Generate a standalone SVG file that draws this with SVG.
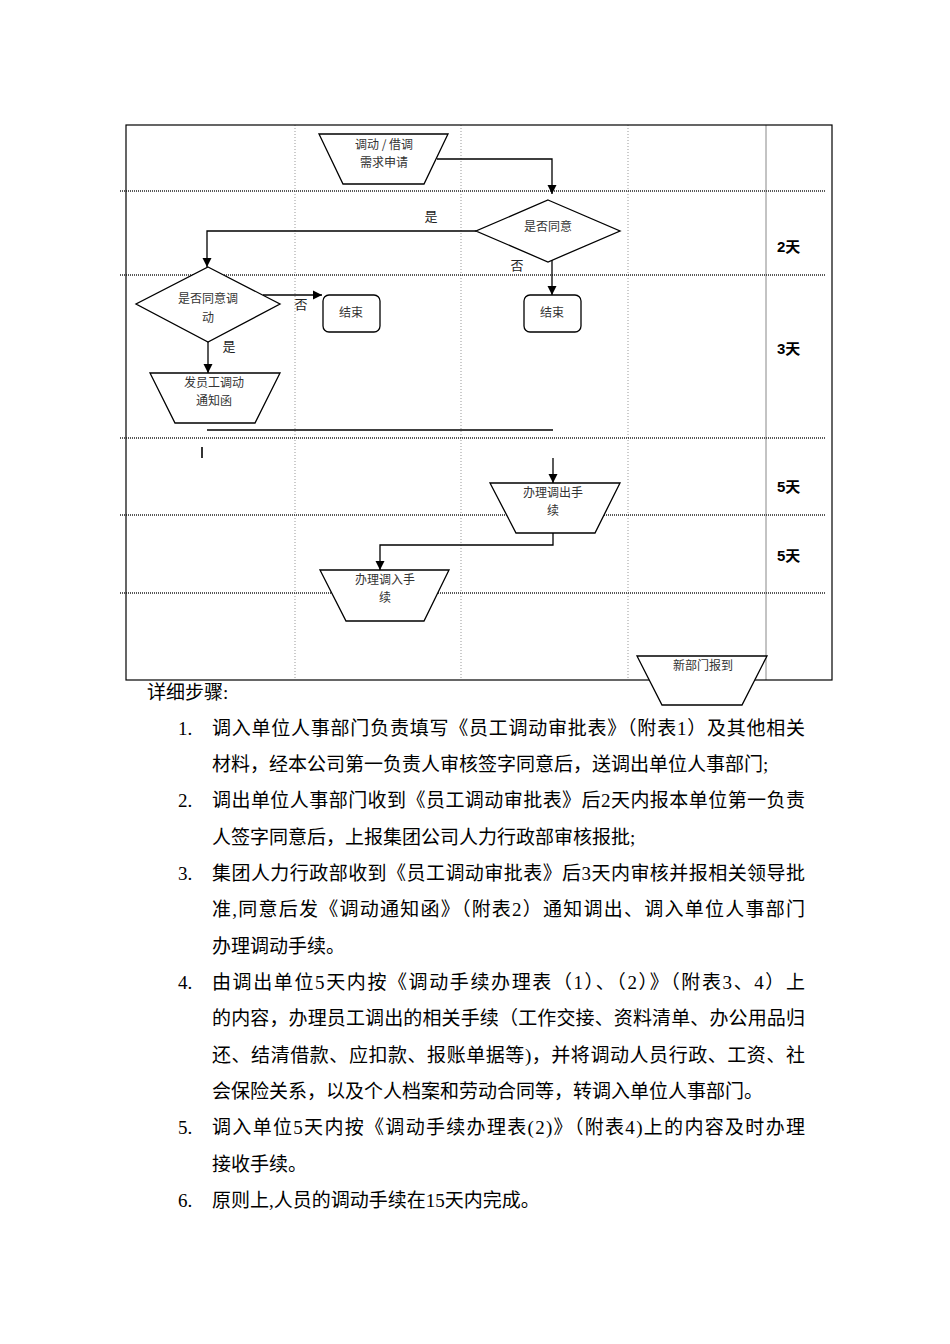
<svg xmlns="http://www.w3.org/2000/svg" width="950" height="1344" viewBox="0 0 950 1344">
<style>
.frame{stroke:#000;stroke-width:1.2;fill:none}
.vsolid{stroke:#888;stroke-width:1;fill:none}
.vdot{stroke:#999;stroke-width:1;stroke-dasharray:1,2;fill:none}
.hdot{stroke:#222;stroke-width:1.3;stroke-dasharray:1,1;fill:none}
.shape{stroke:#000;stroke-width:1.3;fill:#fff}
.conn{stroke:#000;stroke-width:1.3;fill:none}
.lbl{font-family:"Noto Sans CJK SC","Liberation Sans",sans-serif;font-size:12px;fill:#333;text-anchor:middle}
.yn{font-family:"Noto Sans CJK SC","Liberation Sans",sans-serif;font-size:13px;fill:#222;text-anchor:middle}
.day{font-family:"Liberation Sans","Noto Sans CJK SC",sans-serif;font-size:15px;font-weight:bold;fill:#000}
.body{font-family:"Liberation Serif","Noto Sans CJK SC",serif;font-size:19px;fill:#000}
</style>
<defs>
<marker id="arr" viewBox="0 0 10 10" refX="10" refY="5" markerWidth="9" markerHeight="10" markerUnits="userSpaceOnUse" orient="auto">
<path d="M0,0 L10,5 L0,10 z" fill="#000"/>
</marker>
</defs>
<rect width="950" height="1344" fill="#fff"/>

<g id="grid">
<line class="vdot" x1="295" y1="125" x2="295" y2="680"/>
<line class="vdot" x1="461" y1="125" x2="461" y2="680"/>
<line class="vdot" x1="628" y1="125" x2="628" y2="680"/>
<line class="vsolid" x1="766" y1="125" x2="766" y2="680"/>
<line class="hdot" x1="120" y1="191" x2="825" y2="191"/>
<line class="hdot" x1="120" y1="275" x2="825" y2="275"/>
<line class="hdot" x1="120" y1="438" x2="825" y2="438"/>
<line class="hdot" x1="120" y1="515" x2="825" y2="515"/>
<line class="hdot" x1="120" y1="593" x2="825" y2="593"/>
<rect class="frame" x="126" y="125" width="706" height="555"/>
</g>

<g id="days">
<text class="day" x="777" y="252">2天</text>
<text class="day" x="777" y="354">3天</text>
<text class="day" x="777" y="492">5天</text>
<text class="day" x="777" y="561">5天</text>
</g>

<g id="connectors">
<polyline class="conn" points="437,159 552,159 552,194" marker-end="url(#arr)"/>
<polyline class="conn" points="476,231 207,231 207,267" marker-end="url(#arr)"/>
<line class="conn" x1="552" y1="255" x2="552" y2="295" marker-end="url(#arr)"/>
<line class="conn" x1="263" y1="295" x2="322" y2="295" marker-end="url(#arr)"/>
<line class="conn" x1="208" y1="342" x2="208" y2="373" marker-end="url(#arr)"/>
<line class="conn" x1="207" y1="430" x2="553" y2="430"/>
<line class="conn" x1="202" y1="447" x2="202" y2="458" style="stroke-width:1.6"/>
<line class="conn" x1="553" y1="458" x2="553" y2="483" marker-end="url(#arr)"/>
<polyline class="conn" points="553,533 553,545 380,545 380,570" marker-end="url(#arr)"/>
<text class="yn" x="431" y="221">是</text>
<text class="yn" x="517" y="270">否</text>
<text class="yn" x="301" y="309">否</text>
<text class="yn" x="229" y="351">是</text>
</g>

<g id="n1">
<polygon class="shape" points="319,134 448,134 424,184 343,184"/>
<text class="lbl" x="384" y="149">调动 / 借调</text>
<text class="lbl" x="384" y="167">需求申请</text>
</g>
<g id="n2">
<polygon class="shape" points="548,200 620,231 548,262 476,231"/>
<text class="lbl" x="548" y="231">是否同意</text>
</g>
<g id="n3">
<polygon class="shape" points="208,267 280,304 208,342 136,304"/>
<text class="lbl" x="208" y="303">是否同意调</text>
<text class="lbl" x="208" y="322">动</text>
</g>
<g id="n4">
<rect class="shape" x="323" y="295" width="57" height="37" rx="6"/>
<text class="lbl" x="351" y="317">结束</text>
</g>
<g id="n5">
<rect class="shape" x="524" y="295" width="57" height="37" rx="6"/>
<text class="lbl" x="552" y="317">结束</text>
</g>
<g id="n6">
<polygon class="shape" points="150,373 280,373 255,423 175,423"/>
<text class="lbl" x="214" y="387">发员工调动</text>
<text class="lbl" x="214" y="405">通知函</text>
</g>
<g id="n7">
<polygon class="shape" points="490,483 620,483 595,533 516,533"/>
<text class="lbl" x="553" y="497">办理调出手</text>
<text class="lbl" x="553" y="515">续</text>
</g>
<g id="n8">
<polygon class="shape" points="320,570 449,570 424,621 346,621"/>
<text class="lbl" x="385" y="584">办理调入手</text>
<text class="lbl" x="385" y="602">续</text>
</g>
<g id="n9">
<polygon class="shape" points="637,656 767,656 742,705 662,705"/>
<text class="lbl" x="703" y="670">新部门报到</text>
</g>

<g id="steps">
<text class="body" x="147" y="699">详细步骤:</text>
<text class="body" x="178" y="735">1.</text>
<text class="body" x="212" y="735" textLength="593" lengthAdjust="spacing">调入单位人事部门负责填写《员工调动审批表》（附表1）及其他相关</text>
<text class="body" x="212" y="771">材料，经本公司第一负责人审核签字同意后，送调出单位人事部门;</text>
<text class="body" x="178" y="807">2.</text>
<text class="body" x="212" y="807" textLength="593" lengthAdjust="spacing">调出单位人事部门收到《员工调动审批表》后2天内报本单位第一负责</text>
<text class="body" x="212" y="844">人签字同意后，上报集团公司人力行政部审核报批;</text>
<text class="body" x="178" y="880">3.</text>
<text class="body" x="212" y="880" textLength="593" lengthAdjust="spacing">集团人力行政部收到《员工调动审批表》后3天内审核并报相关领导批</text>
<text class="body" x="212" y="916" textLength="593" lengthAdjust="spacing">准,同意后发《调动通知函》（附表2）通知调出、调入单位人事部门</text>
<text class="body" x="212" y="953">办理调动手续。</text>
<text class="body" x="178" y="989">4.</text>
<text class="body" x="212" y="989" textLength="593" lengthAdjust="spacing">由调出单位5天内按《调动手续办理表（1）、（2）》（附表3、4）上</text>
<text class="body" x="212" y="1025" textLength="593" lengthAdjust="spacing">的内容，办理员工调出的相关手续（工作交接、资料清单、办公用品归</text>
<text class="body" x="212" y="1062" textLength="593" lengthAdjust="spacing">还、结清借款、应扣款、报账单据等)，并将调动人员行政、工资、社</text>
<text class="body" x="212" y="1098">会保险关系，以及个人档案和劳动合同等，转调入单位人事部门。</text>
<text class="body" x="178" y="1134">5.</text>
<text class="body" x="212" y="1134" textLength="593" lengthAdjust="spacing">调入单位5天内按《调动手续办理表(2)》（附表4)上的内容及时办理</text>
<text class="body" x="212" y="1171">接收手续。</text>
<text class="body" x="178" y="1207">6.</text>
<text class="body" x="212" y="1207">原则上,人员的调动手续在15天内完成。</text>
</g>
</svg>
